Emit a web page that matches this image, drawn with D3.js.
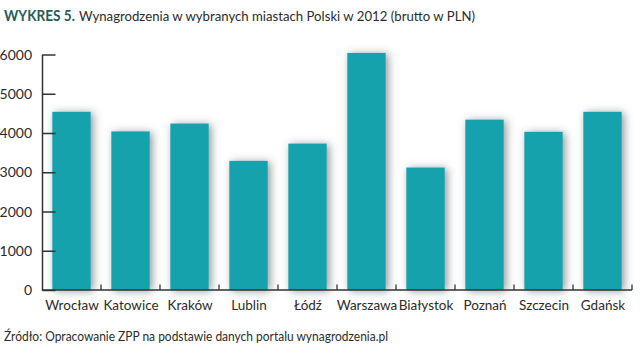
<!DOCTYPE html>
<html><head><meta charset="utf-8">
<script src="https://cdn.jsdelivr.net/npm/d3@7"></script>
<style>body{margin:0;background:#fff}svg{display:block}</style>
</head><body>
<svg id="c" width="640" height="359"></svg>
<script>
const cities = ["Wrocław","Katowice","Kraków","Lublin","Łódź","Warszawa","Białystok","Poznań","Szczecin","Gdańsk"];
const wages = [4540,4040,4240,3290,3730,6040,3120,4340,4030,4540];
const yTicks = [0,1000,2000,3000,4000,5000,6000];
const titleBold = "WYKRES 5.";
const titleRest = "Wynagrodzenia w wybranych miastach Polski w 2012 (brutto w PLN)";
const source = "Źródło: Opracowanie ZPP na podstawie danych portalu wynagrodzenia.pl";

const svg = d3.select("#c");
const font = "Lato, 'Open Sans', sans-serif";
const defs = svg.append("defs");
const f = defs.append("filter").attr("id","sh").attr("x","-50%").attr("y","-20%").attr("width","200%").attr("height","140%");
f.append("feDropShadow").attr("dx",2.5).attr("dy",1).attr("stdDeviation",4.5).attr("flood-color","#3f5258").attr("flood-opacity",0.6);

const x = d3.scaleBand().domain(cities).range([42,632]).paddingInner(0.35).paddingOuter(0.175);
const y = d3.scaleLinear().domain([0,6000]).range([290,54.5]);

svg.append("g").selectAll("rect").data(cities).join("rect")
  .attr("x", d=>x(d)).attr("width", x.bandwidth())
  .attr("y", (d,i)=>y(wages[i])).attr("height", (d,i)=>y(0)-y(wages[i]))
  .attr("fill","#12a2ad").attr("filter","url(#sh)");

// y axis
const ya = svg.append("g").attr("transform","translate(42.5,0)")
  .call(d3.axisRight(y).tickValues(yTicks).tickSize(13).tickFormat(""));
ya.select(".domain").remove();
ya.selectAll("line").attr("stroke","#333").attr("stroke-width",1.5);
svg.append("line").attr("x1",42.5).attr("x2",42.5).attr("y1",y(6000)).attr("y2",y(0)+0.75).attr("stroke","#333").attr("stroke-width",1.5);
svg.append("g").selectAll("text").data(yTicks).join("text")
  .attr("x",32).attr("y",d=>y(d)+5).attr("text-anchor","end")
  .attr("font-family",font).attr("font-size",14).attr("fill","#2b2b2b").text(d=>d);

// x axis
const bounds = cities.slice(1).map(c=>x(c)-x.step()*x.paddingInner()/2).concat([632]);
svg.append("line").attr("x1",42.5).attr("x2",632).attr("y1",290).attr("y2",290).attr("stroke","#333").attr("stroke-width",1.5);
svg.append("g").selectAll("line").data(bounds).join("line")
  .attr("x1",d=>d).attr("x2",d=>d).attr("y1",290).attr("y2",284.5).attr("stroke","#333").attr("stroke-width",1.3);
svg.append("g").selectAll("text").data(cities).join("text")
  .attr("x",d=>x(d)+x.bandwidth()/2+0.5).attr("y",310).attr("text-anchor","middle")
  .attr("font-family",font).attr("font-size",13.5).attr("fill","#2b2b2b").text(d=>d);

// title
svg.append("text").attr("x",4).attr("y",21).attr("font-family",font).attr("font-weight",700)
  .attr("font-size",15).attr("fill","#1f5d5a").attr("textLength",71).attr("lengthAdjust","spacingAndGlyphs").text(titleBold);
svg.append("text").attr("x",79).attr("y",21).attr("font-family",font)
  .attr("font-size",14).attr("fill","#2b2b2b").attr("textLength",396).attr("lengthAdjust","spacingAndGlyphs").text(titleRest);

svg.append("text").attr("x",4).attr("y",341).attr("font-family",font)
  .attr("font-size",13).attr("fill","#2b2b2b").attr("textLength",384).attr("lengthAdjust","spacingAndGlyphs").text(source);
</script>
</body></html>
